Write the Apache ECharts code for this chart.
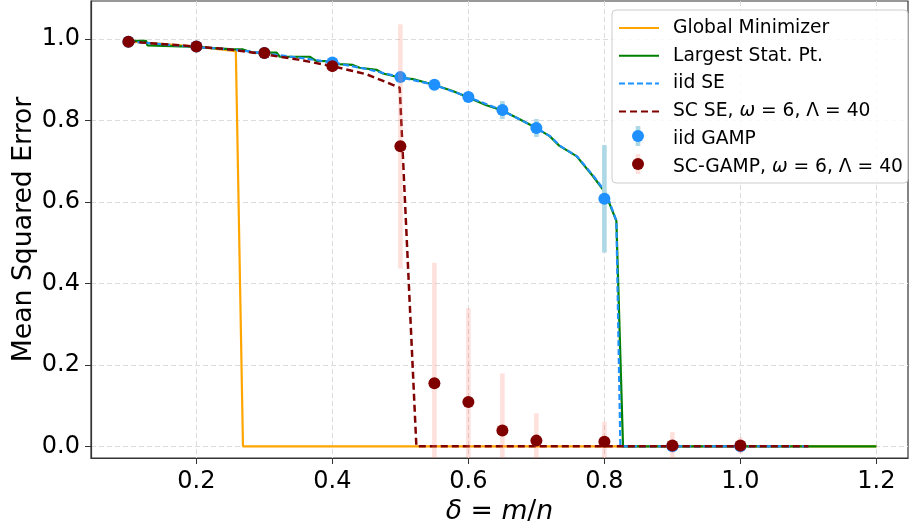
<!DOCTYPE html>
<html><head><meta charset="utf-8">
<script src="https://cdn.jsdelivr.net/npm/echarts@6/dist/echarts.min.js"></script>
<style>html,body{margin:0;padding:0;background:#fff}#c{width:910px;height:525px}</style>
</head><body><div id="c"></div>
<script>
// ---- data ----
const xTicks = [0.2, 0.4, 0.6, 0.8, 1.0, 1.2];
const yTicks = [0.0, 0.2, 0.4, 0.6, 0.8, 1.0];

const globalX = [0.1, 0.2, 0.258, 0.2685, 1.2];
const globalY = [0.995, 0.982, 0.971, 0.0, 0.0];

const statX = [0.100, 0.126, 0.128, 0.190, 0.255, 0.2685, 0.283, 0.318, 0.3225, 0.3666, 0.3764, 0.395, 0.410, 0.430, 0.440, 0.4647, 0.4744, 0.499, 0.5185, 0.548, 0.577, 0.598, 0.6265, 0.6485, 0.676, 0.6985, 0.7196, 0.734, 0.759, 0.783, 0.798, 0.805, 0.8176, 0.8274, 1.2];
const statY = [0.996, 0.996, 0.985, 0.982, 0.975, 0.975, 0.967, 0.967, 0.957, 0.957, 0.947, 0.946, 0.939, 0.937, 0.930, 0.925, 0.916, 0.906, 0.902, 0.889, 0.873, 0.858, 0.838, 0.826, 0.803, 0.783, 0.762, 0.738, 0.713, 0.664, 0.631, 0.607, 0.554, 0.0, 0.0];

const iidSEX = [0.1, 0.2, 0.27, 0.3, 0.35, 0.4, 0.45, 0.5, 0.55, 0.6, 0.65, 0.7, 0.72, 0.735, 0.76, 0.785, 0.8, 0.806, 0.8176, 0.8235, 1.1];
const iidSEY = [0.995, 0.981, 0.972, 0.965, 0.955, 0.943, 0.927, 0.907, 0.888, 0.858, 0.825, 0.782, 0.762, 0.738, 0.712, 0.662, 0.628, 0.607, 0.554, 0.0, 0.0];

const scSEX = [0.1, 0.12, 0.2, 0.25, 0.3, 0.35, 0.4, 0.43, 0.45, 0.48, 0.499, 0.5235, 1.1];
const scSEY = [0.995, 0.992, 0.982, 0.975, 0.963, 0.950, 0.934, 0.922, 0.914, 0.894, 0.881, 0.0, 0.0];

const gampX = [0.1, 0.2, 0.3, 0.4, 0.5, 0.55, 0.6, 0.65, 0.7, 0.8, 0.9, 1.0];
const iidGampY = [0.994, 0.982, 0.966, 0.943, 0.907, 0.888, 0.858, 0.826, 0.782, 0.608, 0.0, 0.0];
const iidGampErr = [0.003, 0.003, 0.005, 0.010, 0.008, 0.012, 0.012, 0.022, 0.022, 0.132, 0.003, 0.003];
const scGampY = [0.994, 0.982, 0.966, 0.934, 0.737, 0.155, 0.109, 0.039, 0.014, 0.011, 0.002, 0.002];
const scGampErr = [0.003, 0.003, 0.005, 0.008, 0.300, 0.296, 0.230, 0.140, 0.067, 0.049, 0.033, 0.020];

// ---- chart ----
const zip = (a, b) => a.map((v, i) => [v, b[i]]);
const zip3 = (a, b, c) => a.map((v, i) => [v, b[i], c[i]]);
const FONT = 'DejaVu Sans';
const RED = '#800000', BLUE = '#1e90ff';
const PINK = 'rgba(250,128,114,0.24)', LBLUE = '#add8e6';

function errBar(color) {
  return function (params, api) {
    const x = api.value(0), y = api.value(1), e = api.value(2);
    const cs = params.coordSys;
    const p1 = api.coord([x, y + e]), p2 = api.coord([x, y - e]);
    let top = Math.max(p1[1], cs.y), bot = Math.min(p2[1], cs.y + cs.height);
    return { type: 'rect', shape: { x: p1[0] - 2.3, y: top, width: 4.6, height: Math.max(0, bot - top) }, style: { fill: color } };
  };
}

const chart = echarts.init(document.getElementById('c'), null, { renderer: 'canvas' });
const lgX = 638, lgRows = [136, 164];
const hidden = { opacity: 0 };
chart.setOption({
  animation: false,
  backgroundColor: '#fff',
  grid: { left: 91, right: 2, top: 1, bottom: 67, outerBoundsMode: 'none', containLabel: false,
    show: true, borderColor: '#333', borderWidth: 1.2, backgroundColor: 'transparent' },
  xAxis: {
    type: 'value', min: 0.045, max: 1.2465,
    axisLine: { show: true, onZero: false, lineStyle: { color: '#333', width: 1.2 } },
    axisTick: { show: true, length: 6, customValues: xTicks, lineStyle: { color: '#333' } },
    axisLabel: { customValues: xTicks, margin: 12, fontFamily: FONT, fontSize: 24, color: '#000', formatter: v => v.toFixed(1) },
    splitLine: { show: true, lineStyle: { color: '#dcdcdc', type: [5, 3], width: 1 } },
    name: '{i|δ} = {i|m}/{i|n}', nameLocation: 'middle', nameGap: 36,
    nameTextStyle: { fontFamily: FONT, fontSize: 26.7, color: '#000', rich: { i: { fontFamily: FONT, fontSize: 26.7, fontStyle: 'italic', color: '#000' } } }
  },
  yAxis: {
    type: 'value', min: -0.0287, max: 1.094,
    axisLine: { show: true, onZero: false, lineStyle: { color: '#333', width: 1.2 } },
    axisTick: { show: true, length: 6, customValues: yTicks, lineStyle: { color: '#333' } },
    axisLabel: { customValues: yTicks, margin: 11, fontFamily: FONT, fontSize: 24, color: '#000', formatter: v => v.toFixed(1) },
    splitLine: { show: true, lineStyle: { color: '#dcdcdc', type: [5, 3], width: 1 } },
    name: 'Mean Squared Error', nameLocation: 'middle', nameGap: 53, nameMoveOverlap: false,
    nameTextStyle: { fontFamily: FONT, fontSize: 26.7, color: '#000' }
  },
  legend: {
    orient: 'vertical', left: 612, top: 10,
    padding: [8, 5, 6, 6], itemGap: 7.8, itemWidth: 40, itemHeight: 14,
    backgroundColor: 'rgba(255,255,255,0.85)', borderColor: '#cccccc', borderWidth: 1, borderRadius: 4,
    textStyle: { fontFamily: FONT, fontSize: 18.7, color: '#000', lineHeight: 20, padding: [0, 0, 0, 9],
      rich: { a: { fontFamily: FONT, fontSize: 18.7, color: '#000' }, i: { fontFamily: FONT, fontSize: 18.7, fontStyle: 'italic', color: '#000' } } },
    formatter: function (name) {
      if (name.indexOf('ω') >= 0) {
        const parts = name.split('ω');
        return '{a|' + parts[0] + '}{i|ω}{a|' + parts[1] + '}';
      }
      return name;
    },
    data: [
      { name: 'Global Minimizer', itemStyle: hidden },
      { name: 'Largest Stat. Pt.', itemStyle: hidden },
      { name: 'iid SE', itemStyle: hidden },
      { name: 'SC SE, ω = 6, Λ = 40', itemStyle: hidden },
      { name: 'iid GAMP', icon: 'circle', itemStyle: hidden },
      { name: 'SC-GAMP, ω = 6, Λ = 40', icon: 'circle', itemStyle: hidden }
    ]
  },
  graphic: [
    { type: 'rect', z: 100, shape: { x: lgX - 2.3, y: lgRows[0] - 10, width: 4.6, height: 20 }, style: { fill: LBLUE } },
    { type: 'circle', z: 101, shape: { cx: lgX, cy: lgRows[0], r: 6 }, style: { fill: BLUE } },
    { type: 'rect', z: 100, shape: { x: lgX - 2.3, y: lgRows[1] - 10, width: 4.6, height: 20 }, style: { fill: PINK } },
    { type: 'circle', z: 101, shape: { cx: lgX, cy: lgRows[1], r: 6 }, style: { fill: RED } }
  ],
  series: [
    { name: 'Global Minimizer', type: 'line', data: zip(globalX, globalY), symbol: 'none', z: 2,
      lineStyle: { color: '#ffa500', width: 2.2 }, itemStyle: { color: '#ffa500' } },
    { name: 'Largest Stat. Pt.', type: 'line', data: zip(statX, statY), symbol: 'none', z: 3,
      lineStyle: { color: '#008000', width: 2.2 }, itemStyle: { color: '#008000' } },
    { name: 'iid SE', type: 'line', data: zip(iidSEX, iidSEY), symbol: 'none', z: 4,
      lineStyle: { color: BLUE, width: 2.2, type: [6, 3] }, itemStyle: { color: BLUE } },
    { name: 'SC SE, ω = 6, Λ = 40', type: 'line', data: zip(scSEX, scSEY), symbol: 'none', z: 5,
      lineStyle: { color: RED, width: 2.5, type: [7, 4] }, itemStyle: { color: RED } },
    { type: 'custom', renderItem: errBar(LBLUE), data: zip3(gampX, iidGampY, iidGampErr), z: 10, silent: true },
    { name: 'iid GAMP', type: 'scatter', data: zip(gampX, iidGampY), symbol: 'circle', symbolSize: 12, z: 11,
      itemStyle: { color: BLUE, opacity: 1 } },
    { type: 'custom', renderItem: errBar(PINK), data: zip3(gampX, scGampY, scGampErr), z: 12, silent: true },
    { name: 'SC-GAMP, ω = 6, Λ = 40', type: 'scatter', data: zip(gampX, scGampY), symbol: 'circle', symbolSize: 12, z: 13,
      itemStyle: { color: RED, opacity: 1 } }
  ]
});
</script></body></html>
